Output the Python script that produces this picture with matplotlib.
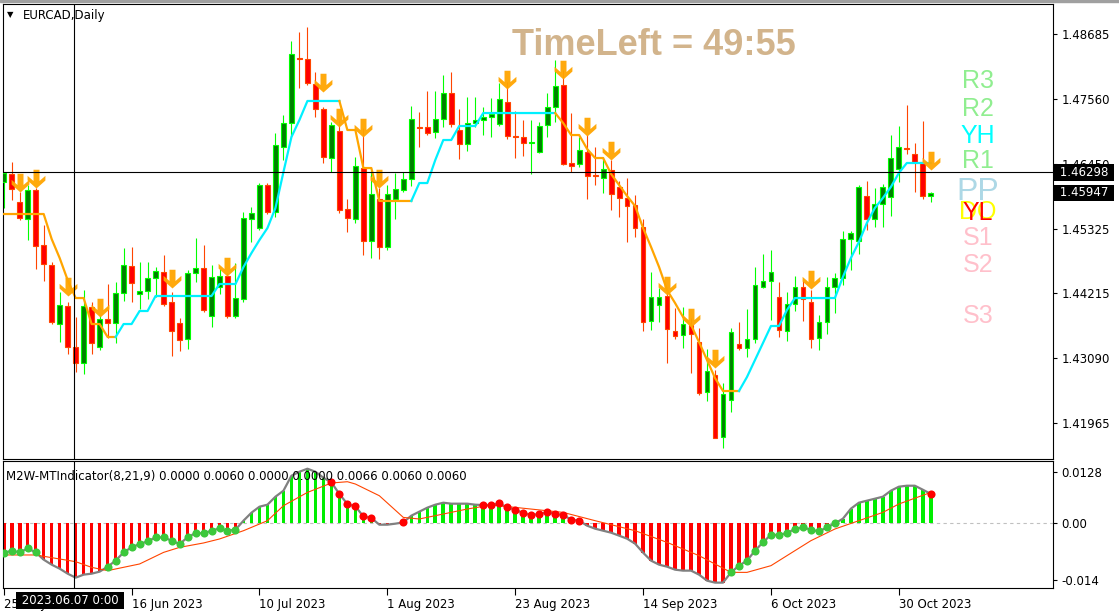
import numpy as np
import matplotlib.pyplot as plt
from matplotlib.path import Path
from matplotlib.patches import Rectangle
from matplotlib.transforms import blended_transform_factory

# EURCAD daily, bar 0 = 25 May 2023
opens = [1.46134, 1.46272, 1.45788, 1.45495, 1.45996, 1.45046, 1.44700, 1.43681, 1.43992, 1.43284,
         1.43008, 1.43975, 1.43284, 1.43768, 1.43698, 1.44217, 1.44683, 1.44199, 1.44251, 1.44476,
         1.44579, 1.44061, 1.43698, 1.43422, 1.44562, 1.44648, 1.43819, 1.44320, 1.44510, 1.43819,
         1.44113, 1.45495, 1.45339, 1.46082, 1.45616, 1.46738, 1.47153, 1.48275, 1.48258, 1.47826,
         1.47395, 1.46548, 1.47015, 1.45667, 1.45495, 1.46375, 1.45115, 1.45840, 1.45011, 1.45840,
         1.45996, 1.46186, 1.47084, 1.47084, 1.46997, 1.47222, 1.47671, 1.47032, 1.46790, 1.47153,
         1.47205, 1.47256, 1.47135, 1.47515, 1.46928, 1.46911, 1.46807, 1.46652, 1.47118, 1.47429,
         1.47809, 1.46462, 1.46445, 1.46652, 1.46255, 1.46203, 1.46341, 1.46047, 1.45857, 1.45736,
         1.45357, 1.43733, 1.44009, 1.44165, 1.43560, 1.43491, 1.43664, 1.43370, 1.42507, 1.42800,
         1.41730, 1.42369, 1.43336, 1.43267, 1.43422, 1.44320, 1.44424, 1.44148, 1.43560, 1.44027,
         1.44320, 1.44061, 1.43439, 1.43716, 1.44320, 1.44476, 1.45149, 1.45115, 1.45892, 1.45495,
         1.45754, 1.45875, 1.46358, 1.46721, 1.46617, 1.46479, 1.45892]
highs = [1.46306, 1.46479, 1.45961, 1.46082, 1.46030, 1.45391, 1.44752, 1.44234, 1.44061, 1.43802,
         1.44268, 1.44061, 1.43837, 1.44372, 1.44407, 1.44994, 1.45011, 1.44752, 1.44752, 1.44666,
         1.44873, 1.44234, 1.43785, 1.44614, 1.45166, 1.45046, 1.44700, 1.44631, 1.44562, 1.44735,
         1.45616, 1.45702, 1.46116, 1.46116, 1.46980, 1.47291, 1.48569, 1.48724, 1.48811, 1.48034,
         1.47429, 1.47170, 1.47205, 1.45840, 1.46566, 1.47066, 1.46341, 1.46030, 1.46082, 1.46289,
         1.46306, 1.47446, 1.47343, 1.47705, 1.47705, 1.47982, 1.48034, 1.47395, 1.47602, 1.47602,
         1.47429, 1.47584, 1.47843, 1.47861, 1.47360, 1.47205, 1.47205, 1.47170, 1.47671, 1.48241,
         1.48068, 1.47325, 1.46911, 1.46945, 1.46738, 1.46566, 1.46514, 1.46151, 1.46203, 1.45909,
         1.45495, 1.44579, 1.44303, 1.44234, 1.43958, 1.43975, 1.43785, 1.43612, 1.43249, 1.42887,
         1.42662, 1.43612, 1.43716, 1.43940, 1.44666, 1.44890, 1.44959, 1.44407, 1.44234, 1.44510,
         1.44441, 1.44268, 1.43837, 1.44493, 1.44562, 1.45287, 1.45287, 1.46082, 1.46151, 1.46030,
         1.46099, 1.46945, 1.47101, 1.47464, 1.46807, 1.47187, 1.45960]
lows = [1.45685, 1.45823, 1.45477, 1.45132, 1.44631, 1.44424, 1.43681, 1.43370, 1.43163, 1.42852,
        1.42818, 1.43163, 1.43232, 1.43439, 1.43353, 1.44078, 1.44061, 1.43940, 1.44113, 1.44148,
        1.43992, 1.43129, 1.43215, 1.43249, 1.44407, 1.43888, 1.43629, 1.44199, 1.43785, 1.43785,
        1.44061, 1.45097, 1.45305, 1.45581, 1.45529, 1.46514, 1.46911, 1.47757, 1.47809, 1.47256,
        1.46462, 1.46306, 1.45598, 1.45270, 1.45426, 1.44873, 1.44821, 1.44804, 1.44959, 1.45495,
        1.45961, 1.46065, 1.46738, 1.46945, 1.46894, 1.47084, 1.47084, 1.46531, 1.46669, 1.47084,
        1.46945, 1.46911, 1.47101, 1.46876, 1.46548, 1.46583, 1.46272, 1.46635, 1.46911, 1.47170,
        1.46427, 1.46306, 1.46393, 1.45840, 1.46082, 1.45944, 1.45650, 1.45529, 1.45097, 1.45184,
        1.43560, 1.43578, 1.43716, 1.43008, 1.43422, 1.43267, 1.42835, 1.42455, 1.42351, 1.41705,
        1.41540, 1.42161, 1.43232, 1.43111, 1.43353, 1.44303, 1.43750, 1.43457, 1.43388, 1.43906,
        1.43733, 1.43267, 1.43232, 1.43509, 1.43871, 1.44355, 1.44614, 1.44890, 1.45305, 1.45357,
        1.45357, 1.45547, 1.46134, 1.46617, 1.45961, 1.45840, 1.45788]
closes = [1.46289, 1.46013, 1.45512, 1.45996, 1.45028, 1.44717, 1.43716, 1.44009, 1.43284, 1.43008,
          1.43992, 1.43353, 1.43768, 1.43698, 1.44217, 1.44700, 1.44389, 1.44251, 1.44476, 1.44597,
          1.44027, 1.43560, 1.43405, 1.44562, 1.44648, 1.43923, 1.44493, 1.44510, 1.43819, 1.44130,
          1.45512, 1.45598, 1.46082, 1.45616, 1.46773, 1.47153, 1.48344, 1.48258, 1.47843, 1.47395,
          1.46566, 1.47118, 1.45650, 1.45512, 1.46410, 1.45115, 1.45926, 1.45011, 1.45926, 1.46013,
          1.46186, 1.47222, 1.47066, 1.46980, 1.47222, 1.47671, 1.47135, 1.46790, 1.47153, 1.47205,
          1.47256, 1.47308, 1.47567, 1.46928, 1.46911, 1.46807, 1.46825, 1.47101, 1.47429, 1.47792,
          1.46445, 1.46410, 1.46686, 1.46237, 1.46237, 1.46358, 1.45926, 1.45857, 1.45719, 1.45339,
          1.43716, 1.44148, 1.44148, 1.43595, 1.43474, 1.43681, 1.43509, 1.42490, 1.42869, 1.41712,
          1.42472, 1.43543, 1.43267, 1.43422, 1.44355, 1.44424, 1.44579, 1.43578, 1.44027, 1.44320,
          1.44113, 1.43422, 1.43716, 1.44320, 1.44476, 1.45149, 1.45253, 1.46047, 1.45495, 1.45754,
          1.46047, 1.46548, 1.46738, 1.46704, 1.46479, 1.45892, 1.45947]

# trailing stop line, one value per bar
trail = ([1.45581] * 6 + [1.45149, 1.44821, 1.44441, 1.44130, 1.44130, 1.43681, 1.43681, 1.43457, 1.43457,
         1.43681, 1.43681, 1.43906, 1.43906] + [1.44165] * 8 + [1.44372] * 3 +
         [1.44666, 1.44907, 1.45132, 1.45339, 1.45685, 1.46306, 1.46911, 1.47205] + [1.47533] * 5 +
         [1.47032, 1.47032, 1.46375, 1.46375] + [1.45806] * 5 +
         [1.46116, 1.46116, 1.46514, 1.46859, 1.46859] + [1.47101] * 3 + [1.47325] * 10 +
         [1.47153, 1.46945, 1.46945, 1.46704, 1.46548, 1.46548, 1.46272, 1.46082, 1.45892, 1.45719,
          1.45339, 1.45011, 1.44666, 1.44268, 1.44044, 1.43802, 1.43664, 1.43370, 1.43059, 1.42749] +
         [1.42524] * 3 + [1.42766, 1.43059, 1.43353, 1.43647, 1.43647, 1.43923] + [1.44130] * 6 +
         [1.44493, 1.44821, 1.45097, 1.45426, 1.45685, 1.45857, 1.46047, 1.46289] + [1.46462] * 4)
trend_flips = [15, 43, 52, 70, 93]   # first bar of each new trend, starting in a downtrend

arrow_bars = [2, 4, 8, 12, 21, 28, 40, 42, 45, 47, 63, 70, 73, 76, 83, 86, 89, 101, 116]
arrow_tips = [1.45961, 1.46030, 1.44165, 1.43802, 1.44303, 1.44510, 1.47688, 1.47084, 1.46911, 1.46030,
              1.47740, 1.47913, 1.46928, 1.46514, 1.44182, 1.43629, 1.42921, 1.44286, 1.46341]

pivot_names = ['R3', 'R2', 'YH', 'R1', 'PP', 'DO', 'YL', 'S1', 'S2', 'S3']
pivot_levels = [1.47913, 1.47446, 1.46963, 1.46548, 1.46021, 1.45667, 1.45650, 1.45218, 1.44752, 1.43871]
pivot_colors = ['#90EE90', '#90EE90', '#00FFFF', '#90EE90', '#ADD8E6', '#FFFF00', '#FF0000',
                '#FFC0CB', '#FFC0CB', '#FFC0CB']

price_ticks = [1.48685, 1.47560, 1.46450, 1.45325, 1.44215, 1.43090, 1.41965]
bid_line = 1.46298
last_price = 1.45947

# M2W-MT indicator
hist = [-0.00732, -0.00676, -0.00718, -0.00619, -0.00718, -0.00898, -0.01022, -0.01121, -0.01245, -0.01344,
        -0.01269, -0.01245, -0.01195, -0.01072, -0.00923, -0.00718, -0.00594, -0.00510, -0.00445, -0.00346,
        -0.00346, -0.00428, -0.00510, -0.00346, -0.00238, -0.00247, -0.00181, -0.00124, -0.00181, -0.00156,
        0.00067, 0.00265, 0.00413, 0.00463, 0.00661, 0.00809, 0.01180, 0.01279, 0.01354, 0.01279,
        0.01131, 0.01015, 0.00728, 0.00480, 0.00421, 0.00173, 0.00134, -0.00032, -0.00032, -0.00007,
        0.00025, 0.00191, 0.00290, 0.00389, 0.00463, 0.00512, 0.00488, 0.00488, 0.00488, 0.00463,
        0.00455, 0.00455, 0.00495, 0.00396, 0.00339, 0.00257, 0.00208, 0.00233, 0.00272, 0.00240,
        0.00208, 0.00092, 0.00067, -0.00057, -0.00131, -0.00181, -0.00230, -0.00304, -0.00379, -0.00502,
        -0.00725, -0.00923, -0.01022, -0.01072, -0.01146, -0.01170, -0.01170, -0.01269, -0.01418, -0.01467,
        -0.01467, -0.01213, -0.01047, -0.00923, -0.00676, -0.00470, -0.00280, -0.00287, -0.00238, -0.00139,
        -0.00099, -0.00156, -0.00198, -0.00099, -0.00001, 0.00116, 0.00364, 0.00512, 0.00562, 0.00611,
        0.00661, 0.00809, 0.00908, 0.00933, 0.00933, 0.00834, 0.00728]
dots_green = [0, 1, 2, 3, 4] + list(range(13, 30)) + list(range(91, 105))
dots_red = list(range(41, 47)) + [50] + list(range(60, 73)) + [116]
sig_bars = [0, 4, 9, 11, 13, 17, 20, 22, 25, 27, 30, 33, 35, 38, 41, 43, 44, 47, 50, 52,
            54, 58, 61, 64, 70, 74, 79, 83, 87, 91, 93, 96, 98, 101, 104, 107, 110, 112, 116]
sig_vals = [-0.00782, -0.00782, -0.00948, -0.01089, -0.01170, -0.01005, -0.00718, -0.00594, -0.00485, -0.00386,
            -0.00181, 0.00067, 0.00438, 0.00767, 0.01000, 0.01032, 0.00975, 0.00685, 0.00148, 0.00109,
            0.00191, 0.00356, 0.00455, 0.00396, 0.00272, 0.00067, -0.00181, -0.00470, -0.00799, -0.01213,
            -0.01213, -0.01047, -0.00799, -0.00428, -0.00139, 0.00067, 0.00272, 0.00480, 0.00767]

date_ticks = [0, 16, 32, 48, 64, 80, 96, 112]
date_labels = ['25 May 2023', '16 Jun 2023', '10 Jul 2023', '1 Aug 2023', '23 Aug 2023',
               '14 Sep 2023', '6 Oct 2023', '30 Oct 2023']
cross_bar = 8.83
cross_label = '2023.06.07 0:00'

# ---------------------------------------------------------------
W, H = 1119, 615
plt.rcParams['font.family'] = 'DejaVu Sans'
plt.rcParams['font.size'] = 8.5
fig = plt.figure(figsize=(W / 100, H / 100), dpi=100)
fig.patch.set_facecolor('white')
fig.patches.append(Rectangle((0, 1 - 2 / H), 1, 2 / H, transform=fig.transFigure, color='#A0A0A0'))

ax = fig.add_axes([3 / W, 1 - 459 / H, 1050 / W, 455 / H])
ax2 = fig.add_axes([3 / W, 1 - 588 / H, 1050 / W, 127 / H])

o, h, l, c = map(np.array, (opens, highs, lows, closes))
x = np.arange(len(o))
up = c >= o

# candles
ax.vlines(x, l, h, colors=np.where(up, '#00FF00', '#FF4500'), lw=0.8, zorder=2)
ax.bar(x, np.maximum(np.abs(c - o), 0.00003), bottom=np.minimum(o, c), width=0.6,
       color=np.where(up, '#008000', '#FF0000'), edgecolor=np.where(up, '#00FF00', '#FF4500'),
       linewidth=0.8, zorder=3)

# trailing line, orange while down, cyan while up
tr = np.array(trail)
bounds = [0] + trend_flips + [len(tr)]
for k in range(len(bounds) - 1):
    a, b = max(bounds[k] - 1, 0), bounds[k + 1]
    ax.plot(x[a:b], tr[a:b], color='#FFA500' if k % 2 == 0 else '#00F0FF', lw=1.6, zorder=4)

# sell arrows (tip at the anchor point)
arrow = Path([(0.0, 0.0), (-0.95, 0.85), (-0.95, 1.35), (-0.32, 0.8), (-0.32, 2.0), (0.32, 2.0),
              (0.32, 0.8), (0.95, 1.35), (0.95, 0.85), (0.0, 0.0)])
ax.plot(arrow_bars, arrow_tips, ls='none', marker=arrow, markersize=27, color='#FFA500',
        markeredgewidth=0, alpha=0.95, zorder=5)

# crosshair
ax.axhline(bid_line, color='black', lw=0.8, zorder=6)
ax.axvline(cross_bar, color='black', lw=0.8, zorder=6)
ax2.axvline(cross_bar, color='black', lw=0.8, zorder=6)

# pivot labels
for name, lev, col in zip(pivot_names, pivot_levels, pivot_colors):
    ax.text(0.9286, lev, name, transform=blended_transform_factory(ax.transAxes, ax.transData),
            ha='center', va='center_baseline', color=col, family='Liberation Sans',
            fontsize=23 if name == 'PP' else 18, zorder=7)

ax.text(0.4848, 1 - 51 / 455, 'TimeLeft = 49:55', transform=ax.transAxes, color='#D2B48C',
        family='Liberation Sans', fontweight='bold', fontsize=26, va='baseline', ha='left', zorder=7)

ax.set_xlim(-0.09, 131.29)
ax.set_ylim(1.41350, 1.49208)
ax.set_xticks([])
ax.yaxis.tick_right()
ax.set_yticks(price_ticks)
ax.set_yticklabels(['%.5f' % v for v in price_ticks])
ax.tick_params(axis='y', length=3, width=0.8, pad=3, labelsize=8.5)

rt = blended_transform_factory(ax.transAxes, ax.transData)
for val in (bid_line, last_price):
    ax.text(1.0027, val, ' %.5f ' % val, transform=rt, color='white', fontsize=8.5, ha='left',
            va='center', clip_on=False, zorder=10,
            bbox=dict(boxstyle='square,pad=0.15', fc='black', ec='none'))

fig.text(10 / W, 1 - 14.5 / H, '\u25bc', fontsize=6, ha='center', va='center')
fig.text(23 / W, 1 - 16 / H, 'EURCAD,Daily', fontsize=8.5, ha='left', va='center')

# indicator panel
hv = np.array(hist)
ax2.axhline(0, color='#C0C0C0', lw=0.8, ls=(0, (3, 3)), zorder=1)
ax2.bar(x, hv, width=0.45, color=np.where(hv >= 0, '#00EE00', '#FF0000'), linewidth=0, zorder=2)
ax2.plot(x, hv, color='#808080', lw=1.6, zorder=3)
ax2.plot(sig_bars, sig_vals, color='#FF4500', lw=0.8, zorder=4)
ax2.scatter(dots_green, hv[dots_green], s=34, color='#3CC83C', linewidths=0, zorder=5)
ax2.scatter(dots_red, hv[dots_red], s=34, color='#FF0000', linewidths=0, zorder=5)
ax2.text(0.003, 0.88, 'M2W-MTIndicator(8,21,9) 0.0000 0.0060 0.0000 0.0000 0.0066 0.0060 0.0060',
         transform=ax2.transAxes, fontsize=8.5, ha='left', va='center', zorder=8)

ax2.set_xlim(-0.09, 131.29)
ax2.set_ylim(-0.0160, 0.01545)
ax2.yaxis.tick_right()
ax2.set_yticks([0.0128, 0.0, -0.014])
ax2.set_yticklabels(['0.0128', '0.00', '-0.014'])
ax2.set_xticks(date_ticks)
ax2.set_xticklabels(date_labels)
for lbl in ax2.get_xticklabels():
    lbl.set_ha('left')
ax2.tick_params(axis='y', length=3, width=0.8, pad=3, labelsize=8.5)
ax2.tick_params(axis='x', length=5, width=0.8, pad=2, labelsize=8.5)

for a in (ax, ax2):
    for s in a.spines.values():
        s.set_linewidth(0.8)
        s.set_color('black')

fig.text(70 / W, 1 - 600.5 / H, ' ' + cross_label + ' ', color='white', fontsize=8.5, ha='center',
         va='center', zorder=10, bbox=dict(boxstyle='square,pad=0.15', fc='black', ec='none'))

fig.savefig('out.png', dpi=100)
